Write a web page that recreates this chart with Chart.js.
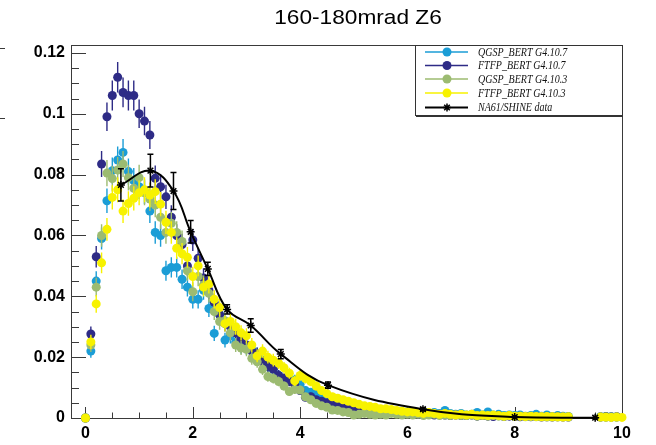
<!DOCTYPE html>
<html>
<head>
<meta charset="utf-8">
<script src="https://cdn.jsdelivr.net/npm/chart.js@4.4.1/dist/chart.umd.min.js"></script>
<style>
  html, body { margin: 0; padding: 0; background: #fff; }
</style>
</head>
<body>
<canvas id="plot" width="656" height="445"></canvas>
<script>
// centres des bins (p en GeV/c)
const bins = [0,0.1,0.2,0.3,0.4,0.5,0.6,0.7,0.8,0.9,1,1.1,1.2,1.3,1.4,1.5,1.6,1.7,1.8,1.9,
  2,2.1,2.2,2.3,2.4,2.5,2.6,2.7,2.8,2.9,3,3.1,3.2,3.3,3.4,3.5,3.6,3.7,3.8,3.9,
  4,4.1,4.2,4.3,4.4,4.5,4.6,4.7,4.8,4.9,5,5.1,5.2,5.3,5.4,5.5,5.6,5.7,5.8,5.9,
  6,6.1,6.2,6.3,6.4,6.5,6.6,6.7,6.8,6.9,7,7.1,7.2,7.3,7.4,7.5,7.6,7.7,7.8,7.9,
  8,8.1,8.2,8.3,8.4,8.5,8.6,8.7,8.8,8.9,9,9.1,9.2,9.3,9.4,9.5,9.6,9.7,9.8,9.9,10];

const qgsp107 = [0,
  0.022,0.045,0.059,0.0714,0.0813,0.0848,0.0873,0.081,0.078,0.076,
  0.0744,0.068,0.061,0.060,0.0484,0.0495,0.0495,0.0456,0.043,0.039,
  0.039,0.042,0.036,0.0278,0.034,0.0256,0.027,0.025,0.0234,0.023,
  0.0224,0.021,0.019,0.017,0.016,0.014,0.012,0.0125,0.0125,0.011,
  0.009,0.0085,0.008,0.007,0.0065,0.006,0.005,0.005,0.0045,0.004,
  0.0038,0.0035,0.003,0.003,0.0028,0.0025,0.0025,0.0022,0.002,0.002,
  0.0018,0.0015,0.002,0.0015,0.0018,0.0015,0.0025,0.0015,0.0012,0.0015,
  0.001,0.0012,0.0018,0.001,0.002,0.001,0.0012,0.0008,0.001,0.0008,
  0.001,0.0006,0.0008,0.0012,0.0006,0.001,0.0005,0.0008,0.0006,0.0005,
  null,null,null,null,null,0.0004,0.0005,0.0004,0.0003,null];
const ftfp107 = [0,
  0.0276,0.053,0.0835,0.099,0.106,0.112,0.107,0.106,0.106,0.100,
  0.0976,0.093,0.0788,0.076,0.0727,0.066,0.060,0.057,0.050,0.0585,
  0.0525,0.046,0.042,0.038,0.034,0.031,0.030,0.028,0.026,0.024,
  0.022,0.021,0.0185,0.017,0.016,0.014,0.013,0.012,0.011,0.009,
  0.0068,0.007,0.006,0.0055,0.005,0.0045,0.004,0.0038,0.0035,0.003,
  0.003,0.0028,0.0025,0.0025,0.0022,0.002,0.002,0.0018,0.0015,0.0018,
  0.0015,0.0012,0.0015,0.0012,0.001,0.0012,0.001,0.0008,0.001,0.0008,
  0.0008,0.001,0.0006,0.0008,0.0006,0.0005,0.0008,0.0005,0.0006,0.0005,
  0.0004,0.0005,0.0004,0.0005,0.0003,0.0004,0.0003,0.0004,0.0003,0.0003,
  null,null,null,null,null,0.0003,0.0004,0.0003,0.0004,null];
const qgsp103 = [0,
  0.024,0.043,0.060,0.0805,0.0787,0.0815,0.0835,0.079,0.0755,0.079,
  0.074,0.072,0.070,0.066,0.061,0.064,0.061,0.058,0.0484,0.0415,
  0.0465,0.0437,0.041,0.035,0.0317,0.032,0.028,0.024,0.023,0.0226,
  0.0196,0.0185,0.016,0.0136,0.013,0.012,0.0105,0.0087,0.0094,0.0092,
  0.007,0.006,0.0048,0.004,0.0035,0.0026,0.0025,0.002,0.0018,0.001,
  0.0012,0.0015,0.0012,0.001,0.0012,0.001,0.0015,0.0012,0.001,0.0012,
  0.001,0.0012,0.0008,0.001,0.0012,0.0008,0.001,0.0008,0.001,0.0008,
  0.0008,0.001,0.0006,0.0008,0.0006,0.0008,0.0006,0.0005,0.0008,0.0005,
  0.0006,0.0004,0.0005,0.0004,0.0005,0.0003,0.0004,0.0003,0.0004,0.0003,
  null,null,null,null,null,0.0003,0.0002,0.0003,0.0003,null];
const ftfp103 = [0,
  0.025,0.0375,0.051,0.062,0.0725,0.075,0.068,0.0705,0.0722,0.074,
  0.075,0.0733,0.0744,0.0703,0.0643,0.061,0.0558,0.054,0.0528,0.0465,
  0.050,0.043,0.044,0.039,0.0363,0.031,0.0317,0.030,0.028,0.027,
  0.024,0.0204,0.022,0.020,0.019,0.018,0.0165,0.0147,0.0122,0.014,
  0.013,0.012,0.0105,0.009,0.008,0.007,0.0065,0.006,0.0055,0.005,
  0.0045,0.004,0.0038,0.0035,0.003,0.003,0.0028,0.0025,0.0022,0.002,
  0.002,0.0018,0.0015,0.0018,0.0015,0.0012,0.0015,0.0012,0.001,0.0012,
  0.001,0.0012,0.0008,0.001,0.0008,0.001,0.0008,0.0006,0.0008,0.0006,
  0.0006,0.0005,0.0006,0.0005,0.0004,0.0005,0.0004,0.0004,0.0003,0.0004,
  null,null,null,null,null,0.0003,0.0003,0.0002,0.0003,0.0002];

// erreurs (seulement la partie visible, le reste ~0)
const qgsp107Err = [0,0.0022,0.0032,0.0036,0.004,0.0043,0.0044,0.0044,0.0043,0.0042,0.0041,
  0.0041,0.0039,0.0037,0.0037,0.0033,0.0033,0.0033,0.0032,0.0031,0.003,
  0.003,0.0031,0.0028,0.0025,0.0028,0.0024,0.0025,0.0024,0.0023,0.0023,
  0.0022,0.0022,0.0021,0.002,0.0019,0.0018,0.0016,0.0017,0.0017,0.0016,
  0.0014,0.0014,0.0013,0.0013,0.0012,0.0012];
const ftfp107Err = [0,0.0025,0.0035,0.0043,0.0047,0.0049,0.005,0.0049,0.0049,0.0049,0.0047,
  0.0047,0.0046,0.0042,0.0041,0.004,0.0039,0.0037,0.0036,0.0034,0.0036,
  0.0034,0.0032,0.0031,0.0029,0.0028,0.0026,0.0026,0.0025,0.0024,0.0023,
  0.0022,0.0022,0.002,0.002,0.0019,0.0018,0.0017,0.0016,0.0016,0.0014,
  0.0012,0.0013,0.0012,0.0011,0.0011];
const qgsp103Err = [0,0.0023,0.0031,0.0037,0.0043,0.0042,0.0043,0.0043,0.0042,0.0041,0.0042,
  0.0041,0.004,0.004,0.0039,0.0037,0.0038,0.0037,0.0036,0.0033,0.0031,
  0.0032,0.0031,0.003,0.0028,0.0027,0.0027,0.0025,0.0023,0.0023,0.0023,
  0.0021,0.002,0.0019,0.0017,0.0017,0.0016,0.0015,0.0014,0.0015,0.0014,
  0.0013,0.0012,0.001,0.001,0.0009];
const ftfp103Err = [0,0.0024,0.0029,0.0034,0.0037,0.004,0.0041,0.0039,0.004,0.004,0.0041,
  0.0041,0.0041,0.0041,0.004,0.0038,0.0037,0.0035,0.0035,0.0034,0.0032,
  0.0034,0.0031,0.0031,0.003,0.0029,0.0026,0.0027,0.0026,0.0025,0.0025,
  0.0023,0.0021,0.0022,0.0021,0.0021,0.002,0.0019,0.0018,0.0017,0.0018,
  0.0017,0.0016,0.0015,0.0014,0.0013];

// données NA61/SHINE
const naX   = [0.66, 1.21, 1.64, 1.96, 2.28, 2.64, 3.08, 3.64, 4.52, 6.29, 8.0, 9.5];
const naY   = [0.0766, 0.0813, 0.0746, 0.0612, 0.049, 0.0357, 0.0304, 0.021, 0.0108, 0.0029, 0.0003, 0.0001];
const naErr = [0.0053, 0.0054, 0.0061, 0.0037, 0.0022, 0.0015, 0.0022, 0.0015, 0.001, 0.0005, 0.0002, 0.0001];

const xTicks = [0, 2, 4, 6, 8, 10];
const yTicks = [0, 0.02, 0.04, 0.06, 0.08, 0.1, 0.12];
const titre = '160-180mrad Z6';

const cCyan = '#1b9dd6', cBleu = '#2e2b86', cVert = '#9cbb71', cJaune = '#f7f200';

let serie = (vals) => bins.map((x, i) => ({x: x, y: vals[i] === undefined ? null : vals[i]}));

let mc = (label, vals, errs, col, ord) => ({
    label: label, data: serie(vals), errors: errs, errColor: col,
    backgroundColor: col, borderColor: col, pointRadius: 4.5, pointHoverRadius: 4.5,
    pointBorderWidth: 0, showLine: false, order: ord, clip: false
});

const datasets = [
    mc('QGSP_BERT G4.10.7', qgsp107, qgsp107Err, cCyan, 5),
    mc('FTFP_BERT G4.10.7', ftfp107, ftfp107Err, cBleu, 4),
    mc('QGSP_BERT G4.10.3', qgsp103, qgsp103Err, cVert, 3),
    mc('FTFP_BERT G4.10.3', ftfp103, ftfp103Err, cJaune, 2),
    {
        label: 'NA61/SHINE data', data: naX.map((x, i) => ({x: x, y: naY[i]})),
        errors: naErr, errColor: '#000', errCap: true,
        showLine: true, tension: 0.4, borderColor: '#000', borderWidth: 2,
        pointStyle: 'star', pointRadius: 4, pointBorderWidth: 1.5,
        pointBorderColor: '#000', backgroundColor: '#000', order: 1, clip: false
    }
];

const axeCol = '#3a3a3a';

// style ROOT : barres d'erreur, cadre, ticks internes, légende, titre
const rootStyle = {
    id: 'rootStyle',
    beforeDatasetsDraw(chart) {
        const ctx = chart.ctx, a = chart.chartArea;
        const xs = chart.scales.x, ys = chart.scales.y;
        ctx.save();
        ctx.strokeStyle = axeCol;
        ctx.lineWidth = 1;
        ctx.strokeRect(a.left + 0.5, a.top + 0.5, a.right - a.left, a.bottom - a.top);
        ctx.beginPath();
        // ticks eje y
        for (let v = 0; v <= 0.1226; v += 0.005) {
            const py = Math.round(ys.getPixelForValue(v)) + 0.5;
            const major = Math.abs(v / 0.02 - Math.round(v / 0.02)) < 1e-6;
            ctx.moveTo(a.left, py);
            ctx.lineTo(a.left + (major ? 15 : 8), py);
        }
        // ticks eje x
        for (let v = 0; v <= 10.001; v += 0.5) {
            const px = Math.round(xs.getPixelForValue(v)) + 0.5;
            const major = Math.abs(v / 2 - Math.round(v / 2)) < 1e-6;
            ctx.moveTo(px, a.bottom);
            ctx.lineTo(px, a.bottom - (major ? 11 : 5.5));
        }
        // restos del pad vecino
        ctx.moveTo(0, 48.5); ctx.lineTo(5, 48.5);
        ctx.moveTo(0, 118.5); ctx.lineTo(5, 118.5);
        ctx.stroke();
        ctx.restore();
    },
    beforeDatasetDraw(chart, args) {
        const ds = chart.data.datasets[args.index];
        if (!ds.errors) return;
        const ctx = chart.ctx, xs = chart.scales.x, ys = chart.scales.y;
        ctx.save();
        ctx.strokeStyle = ds.errColor;
        ctx.lineWidth = ds.errCap ? 1.5 : 1.4;
        ctx.beginPath();
        ds.data.forEach((p, i) => {
            const e = ds.errors[i];
            if (!e || p.y == null) return;
            const px = xs.getPixelForValue(p.x);
            const y1 = ys.getPixelForValue(p.y - e), y2 = ys.getPixelForValue(p.y + e);
            ctx.moveTo(px, y1); ctx.lineTo(px, y2);
            if (ds.errCap) {
                ctx.moveTo(px - 3, y1); ctx.lineTo(px + 3, y1);
                ctx.moveTo(px - 3, y2); ctx.lineTo(px + 3, y2);
            }
        });
        ctx.stroke();
        ctx.restore();
    },
    afterDraw(chart) {
        const ctx = chart.ctx;
        ctx.save();
        // titre
        ctx.save();
        ctx.translate(358, 18);
        ctx.scale(1.08, 1);
        ctx.fillStyle = '#000';
        ctx.font = '21px "Liberation Sans", Arial, sans-serif';
        ctx.textAlign = 'center';
        ctx.textBaseline = 'middle';
        ctx.fillText(titre, 0, 0);
        ctx.restore();

        // légende
        const L = 415, T = 45, R = 623, B = 116;
        ctx.fillStyle = '#fff';
        ctx.fillRect(L, T, R - L, B - T);
        ctx.strokeStyle = '#333';
        ctx.lineWidth = 1;
        ctx.strokeRect(L + 0.5, T + 0.5, R - L - 1, B - T - 1);
        ctx.beginPath();
        ctx.moveTo(L + 1, B + 0.5); ctx.lineTo(R, B + 0.5);
        ctx.stroke();
        const rows = [52, 65.5, 79, 93, 107.5];
        chart.data.datasets.forEach((ds, i) => {
            const y = rows[i];
            const col = ds.borderColor;
            ctx.strokeStyle = col;
            ctx.lineWidth = ds.showLine ? 2 : 1.5;
            ctx.beginPath(); ctx.moveTo(425, y); ctx.lineTo(468, y); ctx.stroke();
            if (ds.pointStyle === 'star') {
                ctx.strokeStyle = '#000'; ctx.lineWidth = 1.5;
                const r = 4;
                ctx.beginPath();
                ctx.moveTo(447 - r, y); ctx.lineTo(447 + r, y);
                ctx.moveTo(447, y - r); ctx.lineTo(447, y + r);
                ctx.moveTo(447 - r * 0.7, y - r * 0.7); ctx.lineTo(447 + r * 0.7, y + r * 0.7);
                ctx.moveTo(447 - r * 0.7, y + r * 0.7); ctx.lineTo(447 + r * 0.7, y - r * 0.7);
                ctx.stroke();
            } else {
                ctx.fillStyle = col;
                ctx.beginPath(); ctx.arc(447, y, 4.5, 0, Math.PI * 2); ctx.fill();
            }
            ctx.save();
            ctx.translate(478, y);
            ctx.scale(0.77, 1);
            ctx.fillStyle = '#111';
            ctx.font = 'italic 13px "Liberation Serif", "Times New Roman", serif';
            ctx.textAlign = 'left';
            ctx.textBaseline = 'middle';
            ctx.fillText(ds.label, 0, 0.5);
            ctx.restore();
        });
        ctx.restore();
    }
};

const fuente = {family: '"Liberation Sans", Arial, sans-serif', size: 16, weight: 'bold'};

const config = {
    type: 'scatter',
    data: { datasets: datasets },
    options: {
        responsive: false,
        animation: false,
        events: [],
        layout: { padding: { top: 45, right: 34, left: 0, bottom: 0 } },
        plugins: { legend: { display: false }, title: { display: false }, tooltip: { enabled: false } },
        scales: {
            x: {
                type: 'linear', min: -0.27, max: 10,
                afterBuildTicks: s => { s.ticks = xTicks.map(v => ({value: v})); },
                afterFit: s => { s.height = 27; },
                grid: { display: false, drawTicks: false },
                border: { display: false },
                ticks: { font: fuente, color: '#000', padding: 6, maxRotation: 0, autoSkip: false,
                         callback: v => String(v) }
            },
            y: {
                type: 'linear', min: 0, max: 0.1226,
                afterBuildTicks: s => { s.ticks = yTicks.map(v => ({value: v})); },
                afterFit: s => { s.width = 71; },
                grid: { display: false, drawTicks: false },
                border: { display: false },
                ticks: { font: fuente, color: '#000', padding: 6, autoSkip: false,
                         callback: v => v === 0 ? '0' : String(Math.round(v * 100) / 100) }
            }
        }
    },
    plugins: [rootStyle]
};

let chartRef = new Chart(document.getElementById('plot'), config);
</script>
</body>
</html>
